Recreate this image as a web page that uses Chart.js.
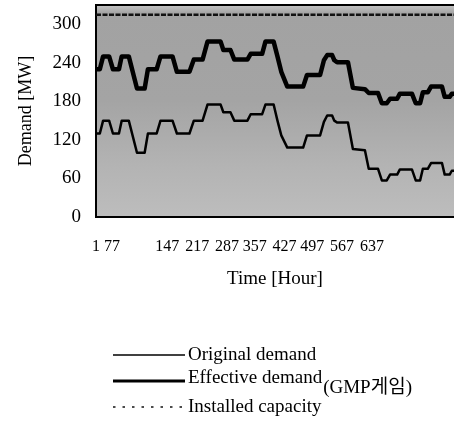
<!DOCTYPE html>
<html>
<head>
<meta charset="utf-8">
<script src="https://cdn.jsdelivr.net/npm/chart.js@4.4.1/dist/chart.umd.min.js"></script>
<style>
  html, body { margin: 0; padding: 0; background: #ffffff; }
  #wrap { width: 454px; height: 438px; position: relative; }
</style>
</head>
<body>
<div id="wrap"><canvas id="c"></canvas></div>
<script>
// ---- data ----
const hours = [1,8,14,25,32,43,48,61,76,90,96,112,119,141,149,172,180,196,205,229,
  234,247,254,278,284,305,311,326,333,340,351,380,387,411,418,424,433,437,442,462,
  471,493,500,517,524,533,539,552,557,579,586,594,599,608,614,634,639,648,652,656];
const originalDemand = [130,130,150,150,130,130,150,150,100,100,130,130,150,150,130,130,150,150,175,175,
  163,163,150,150,160,160,175,175,150,127,108,108,127,127,148,158,158,150,147,147,
  106,104,75,75,57,57,66,66,74,74,57,57,75,75,84,84,66,66,72,72];
const effectiveDemand = [230,230,250,250,230,230,250,250,200,200,230,230,250,250,226,226,245,245,273,273,
  260,260,245,245,254,254,273,273,250,226,203,203,221,221,244,252,252,244,241,241,
  201,199,193,193,177,177,184,184,192,192,177,177,194,194,203,203,187,187,192,192];
const installedCapacity = 315;
const seriesLabels = ['Original demand', 'Effective demand(GMP게임)', 'Installed capacity'];
const xTickLabels = ['1','77','147','217','287','357','427','497','567','637'];
const xTickSlots = [0,7,31,44,57,69,82,94,107,120];
const yTickValues = [0,60,120,180,240,300];

const serif = "'Liberation Serif','Times New Roman','Noto Sans CJK KR',serif";

const toPoints = (xs, ys) => xs.map((x, i) => ({x: x, y: ys[i]}));
const hMin = hours[0], hMax = hours[hours.length - 1];

const paperBackground = {
  id: 'paperBackground',
  beforeDraw(chart) {
    const {ctx, chartArea: a} = chart;
    ctx.save();
    const g = ctx.createLinearGradient(0, a.top, 0, a.bottom);
    g.addColorStop(0, '#c6c6c6');
    g.addColorStop(0.04, '#a2a2a2');
    g.addColorStop(0.45, '#a4a4a4');
    g.addColorStop(0.75, '#b3b3b3');
    g.addColorStop(1, '#bdbdbd');
    ctx.fillStyle = g;
    ctx.fillRect(a.left, a.top, a.right - a.left, a.bottom - a.top);
    ctx.restore();
  },
  afterDatasetsDraw(chart) {
    const {ctx, chartArea: a} = chart;
    ctx.save();
    ctx.strokeStyle = '#000';
    ctx.lineWidth = 2;
    ctx.beginPath();
    ctx.moveTo(a.left, a.top);
    ctx.lineTo(a.right, a.top);
    ctx.stroke();
    ctx.restore();
  }
};

const paperLegend = {
  id: 'paperLegend',
  afterDraw(chart, args, opts) {
    const ctx = chart.ctx;
    ctx.save();
    chart.data.datasets.forEach((ds, i) => {
      const y = opts.top + i * opts.rowGap;
      ctx.beginPath();
      ctx.lineWidth = opts.widths[i];
      ctx.strokeStyle = ds.borderColor;
      ctx.setLineDash(opts.dashes[i]);
      ctx.moveTo(opts.lineStart, y);
      ctx.lineTo(opts.lineEnd, y);
      ctx.stroke();
      ctx.setLineDash([]);
      ctx.fillStyle = '#000';
      ctx.font = opts.font;
      ctx.textBaseline = 'middle';
      ctx.textAlign = 'left';
      const label = ds.label;
      const k = label.indexOf('(');
      if (k > 0) {
        const main = label.slice(0, k), sub = label.slice(k);
        ctx.fillText(main, opts.textStart, y - 3);
        const w = ctx.measureText(main).width;
        ctx.fillText(sub, opts.textStart + w + 1, y + 7);
      } else {
        ctx.fillText(label, opts.textStart, y);
      }
    });
    ctx.restore();
  }
};

new Chart(document.getElementById('c'), {
  type: 'line',
  data: {
    datasets: [
      { label: seriesLabels[0], data: toPoints(hours, originalDemand), borderColor: '#000',
        borderWidth: 2.5, pointRadius: 0, tension: 0, borderJoinStyle: 'round', fill: false },
      { label: seriesLabels[1], data: toPoints(hours, effectiveDemand), borderColor: '#000',
        borderWidth: 4.5, pointRadius: 0, tension: 0, borderJoinStyle: 'round', fill: false },
      { label: seriesLabels[2], data: [{x: hMin, y: installedCapacity}, {x: hMax, y: installedCapacity}],
        borderColor: '#111', borderWidth: 2.5, borderDash: [5, 1.5], pointRadius: 0, tension: 0, fill: false }
    ]
  },
  options: {
    responsive: true,
    maintainAspectRatio: false,
    animation: false,
    events: [],
    layout: { padding: { left: 0, right: 0, top: 5, bottom: 146 } },
    plugins: {
      legend: { display: false },
      tooltip: { enabled: false },
      paperLegend: {
        top: 355, rowGap: 26, lineStart: 113, lineEnd: 185, textStart: 188,
        font: "19px " + serif,
        widths: [1.3, 3, 1.5],
        dashes: [[], [], [2.5, 7]]
      }
    },
    scales: {
      x: {
        type: 'linear', position: 'bottom', weight: 0,
        min: hMin, max: hMax,
        ticks: { display: false },
        grid: { display: false, drawTicks: false },
        border: { display: true, color: '#000', width: 2 },
        afterFit: (s) => { s.height = 0; s.paddingLeft = 0; s.paddingRight = 0; }
      },
      xl: {
        type: 'linear', position: 'bottom', weight: 1,
        min: 0, max: 155.65,
        afterBuildTicks: (s) => { s.ticks = xTickSlots.map(v => ({value: v})); },
        ticks: {
          autoSkip: false, maxRotation: 0, padding: 20, color: '#000',
          font: { family: serif, size: 16 },
          callback: (v, i) => xTickLabels[i]
        },
        grid: { display: false, drawTicks: false },
        border: { display: false },
        title: { display: true, text: 'Time [Hour]', color: '#000',
          font: { family: serif, size: 19 }, padding: { top: 0, bottom: 2 } },
        afterFit: (s) => { s.height = 75; s.paddingLeft = 0; s.paddingRight = 0; }
      },
      y: {
        type: 'linear', position: 'left',
        min: 0, max: 330,
        afterBuildTicks: (s) => { s.ticks = yTickValues.map(v => ({value: v})); },
        ticks: { padding: 15, color: '#000', font: { family: serif, size: 19 } },
        grid: { display: false, drawTicks: false },
        border: { display: true, color: '#000', width: 2 },
        title: { display: true, text: 'Demand [MW]', color: '#000',
          font: { family: serif, size: 18 }, padding: { top: 15, bottom: 0 } },
        afterFit: (s) => { s.width = 96; s.paddingTop = 0; s.paddingBottom = 0; }
      }
    }
  },
  plugins: [paperBackground, paperLegend]
});
</script>
</body>
</html>
